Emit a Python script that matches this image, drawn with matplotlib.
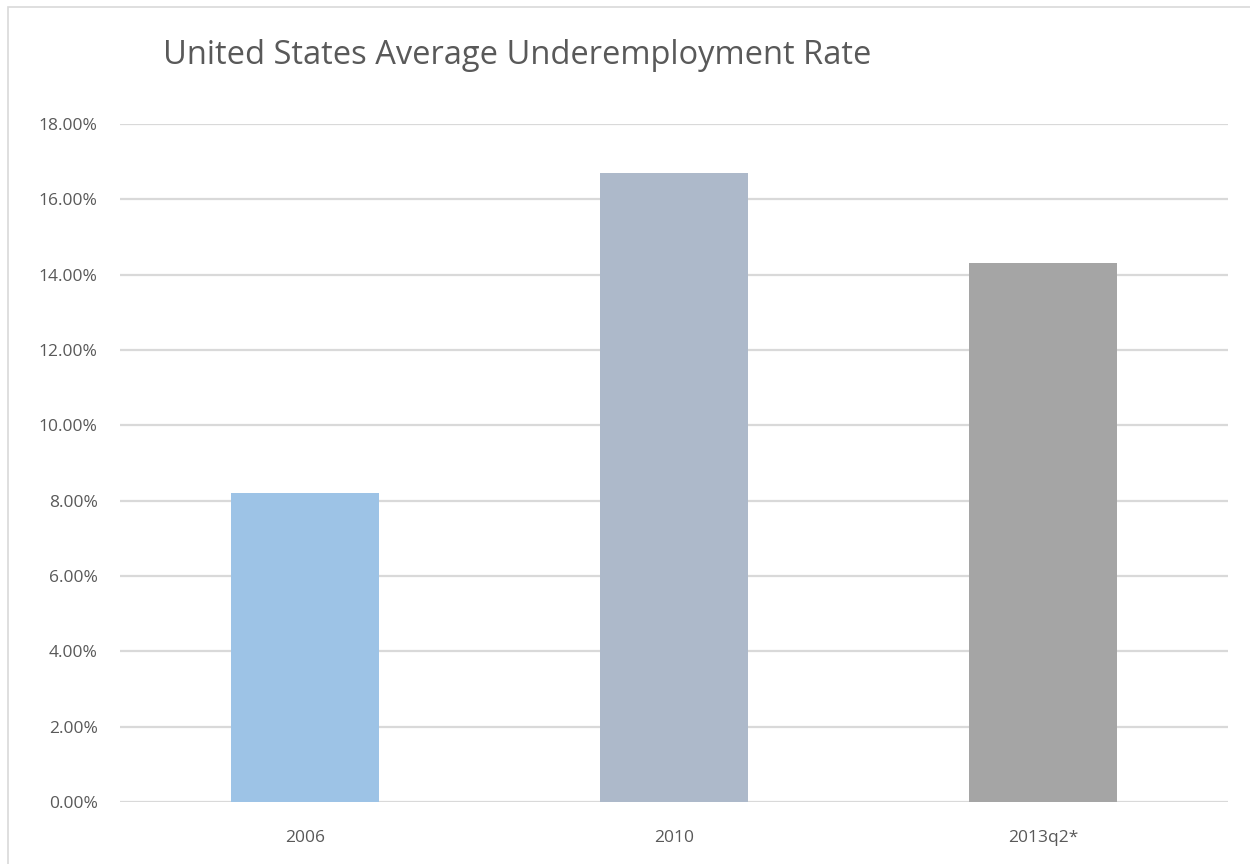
import matplotlib
matplotlib.use('Agg')
import matplotlib.pyplot as plt
from matplotlib.patches import Rectangle
from matplotlib.ticker import FuncFormatter

plt.rcParams['font.family'] = ['Open Sans', 'DejaVu Sans']

#data
categories = ['2006', '2010', '2013q2*']
rates = [0.082, 0.167, 0.1431]
bar_colors = ['#9DC3E6', '#ADB9CA', '#A5A5A5']
yticks = [0.0, 0.02, 0.04, 0.06, 0.08, 0.10, 0.12, 0.14, 0.16, 0.18]

fig = plt.figure(figsize=(12.5, 8.64), dpi=100)
fig.patch.set_facecolor('white')

#outer chart border
fig.patches.append(Rectangle((8/1250, -0.1), 1.2, 1 - 7/864 + 0.1, transform=fig.transFigure,
                             fill=False, edgecolor='#D9D9D9', linewidth=1.2))

ax = fig.add_axes([120/1250, 1 - 802/864, (1228 - 120)/1250, (802 - 124)/864])
x = range(len(categories))
ax.bar(x, rates, width=0.4, color=bar_colors, zorder=3)

ax.set_xlim(-0.5, 2.5)
ax.set_ylim(0, 0.18)
ax.set_yticks(yticks)
ax.yaxis.set_major_formatter(FuncFormatter(lambda v, p: '%.2f%%' % (v * 100)))
ax.set_xticks(list(x))
ax.set_xticklabels(categories)
ax.grid(axis='y', color='#D9D9D9', linewidth=1.6, zorder=0)
for s in ax.spines.values():
    s.set_visible(False)
ax.tick_params(axis='both', length=0, colors='#595959', labelsize=12.5)
ax.tick_params(axis='y', pad=16)
ax.tick_params(axis='x', pad=20)

fig.text(163/1250, 1 - 56/864, 'United States Average Underemployment Rate',
         fontsize=23.5, color='#595959', va='center', ha='left')

plt.savefig('out.png', dpi=100)
